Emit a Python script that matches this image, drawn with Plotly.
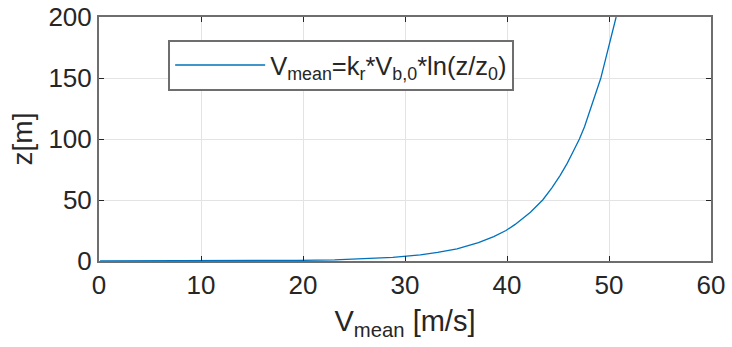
import plotly.graph_objects as go

# Values
z_vals = [0.012, 0.02, 0.03, 0.05, 0.1, 0.2, 0.5, 1, 2, 3, 5, 7, 10, 15, 20, 25, 30, 40, 50, 60,
          70, 80, 90, 100, 110, 120, 130, 140, 150, 160, 170, 180, 190, 200]
v_mean = [0.1, 2.8, 4.9, 7.6, 11.2, 14.8, 19.5, 23.1, 26.7, 28.8, 31.5, 33.2, 35.1, 37.2, 38.7, 39.9, 40.8, 42.3, 43.5, 44.4,
          45.2, 45.9, 46.5, 47.1, 47.6, 48.0, 48.4, 48.8, 49.2, 49.5, 49.8, 50.1, 50.4, 50.7]

x_ticks = [0, 10, 20, 30, 40, 50, 60]
y_ticks = [0, 50, 100, 150, 200]

font_fam = "Liberation Sans, Arial, sans-serif"
txt = "#262626"
axc = "#6e6e6e"

fig = go.Figure()
fig.add_trace(go.Scatter(
    x=v_mean, y=z_vals, mode="lines", line=dict(color="#0072BD", width=1.3),
    name="V<sub>mean</sub>=k<sub>r</sub>*V<sub>b,0</sub>*ln(z/z<sub>0</sub>)"
))

axis_common = dict(
    showline=True, linecolor=axc, linewidth=2, mirror="ticks",
    ticks="inside", ticklen=5, tickcolor=txt, tickwidth=1,
    showgrid=True, gridcolor="#e3e3e3", gridwidth=1, zeroline=False,
    tickfont=dict(size=26, color=txt, family=font_fam),
    automargin=False, ticklabeloverflow="allow",
)
fig.update_xaxes(range=[0, 60], tickvals=x_ticks,
                 title=dict(text="V<sub>mean</sub> [m/s]", font=dict(size=29, color=txt, family=font_fam), standoff=11),
                 **axis_common)
fig.update_yaxes(range=[0, 200], tickvals=y_ticks,
                 title=dict(text="z[m]", font=dict(size=28, color=txt, family=font_fam), standoff=8),
                 **axis_common)

fig.update_layout(
    width=732, height=347,
    margin=dict(l=99, r=21, t=17, b=86),
    paper_bgcolor="white", plot_bgcolor="white",
    showlegend=True,
    legend=dict(x=0.113, y=0.906, xanchor="left", yanchor="top",
                bgcolor="white", bordercolor=axc, borderwidth=2,
                font=dict(size=25.5, color=txt, family=font_fam),
                itemwidth=90),
)
fig.write_html("out.html", config={"displayModeBar": False},
               post_script="document.body.style.margin='0';document.body.style.overflow='hidden';")
